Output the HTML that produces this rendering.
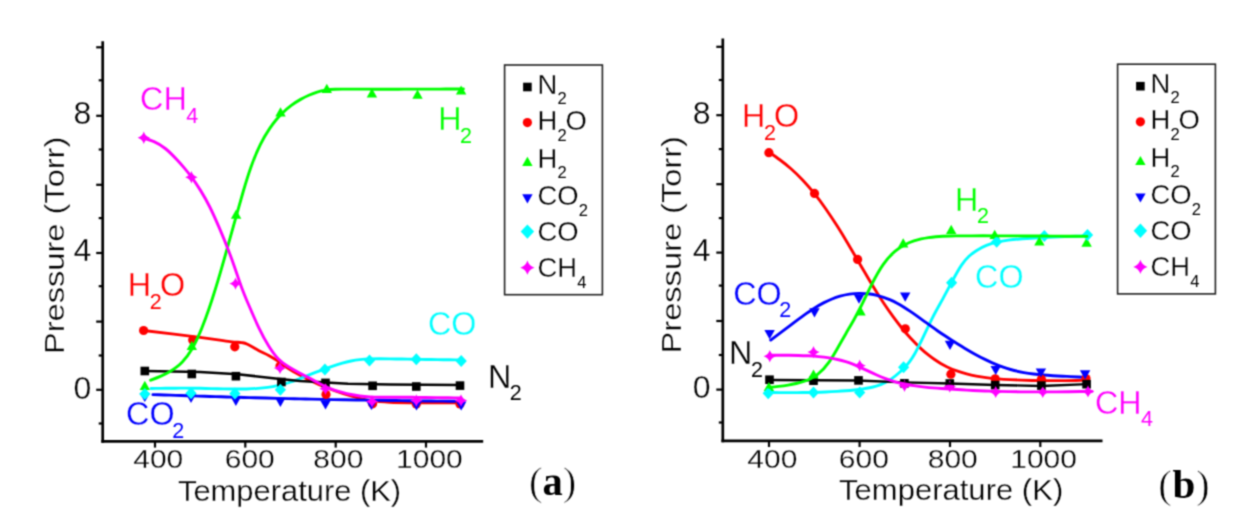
<!DOCTYPE html>
<html><head><meta charset="utf-8"><title>Pressure vs Temperature</title>
<style>html,body{margin:0;padding:0;background:#fff;}svg{display:block;}</style></head>
<body><svg width="1235" height="516" viewBox="0 0 1235 516">
<defs><filter id="soft" filterUnits="userSpaceOnUse" x="0" y="0" width="1235" height="516" color-interpolation-filters="sRGB"><feConvolveMatrix order="3" kernelMatrix="0.04387 0.12171 0.04387 0.12171 0.33767 0.12171 0.04387 0.12171 0.04387" edgeMode="duplicate" preserveAlpha="false"/></filter></defs>
<g filter="url(#soft)">
<rect x="0" y="0" width="1235" height="516" fill="#fff"/>
<line x1="102.70" y1="41.30" x2="102.70" y2="442.75" stroke="#000" stroke-width="2.70"/>
<line x1="101.35" y1="441.40" x2="483.20" y2="441.40" stroke="#000" stroke-width="2.70"/>
<line x1="96.20" y1="47.30" x2="102.70" y2="47.30" stroke="#000" stroke-width="2.20"/>
<line x1="98.70" y1="80.30" x2="102.70" y2="80.30" stroke="#000" stroke-width="2.20"/>
<line x1="96.20" y1="115.80" x2="102.70" y2="115.80" stroke="#000" stroke-width="2.20"/>
<line x1="98.70" y1="149.50" x2="102.70" y2="149.50" stroke="#000" stroke-width="2.20"/>
<line x1="96.20" y1="184.80" x2="102.70" y2="184.80" stroke="#000" stroke-width="2.20"/>
<line x1="98.70" y1="218.10" x2="102.70" y2="218.10" stroke="#000" stroke-width="2.20"/>
<line x1="96.20" y1="253.00" x2="102.70" y2="253.00" stroke="#000" stroke-width="2.20"/>
<line x1="98.70" y1="286.20" x2="102.70" y2="286.20" stroke="#000" stroke-width="2.20"/>
<line x1="96.20" y1="321.60" x2="102.70" y2="321.60" stroke="#000" stroke-width="2.20"/>
<line x1="98.70" y1="355.50" x2="102.70" y2="355.50" stroke="#000" stroke-width="2.20"/>
<line x1="96.20" y1="389.80" x2="102.70" y2="389.80" stroke="#000" stroke-width="2.20"/>
<line x1="98.70" y1="423.50" x2="102.70" y2="423.50" stroke="#000" stroke-width="2.20"/>
<line x1="155.00" y1="441.40" x2="155.00" y2="447.60" stroke="#000" stroke-width="2.20"/>
<line x1="245.30" y1="441.40" x2="245.30" y2="447.60" stroke="#000" stroke-width="2.20"/>
<line x1="335.70" y1="441.40" x2="335.70" y2="447.60" stroke="#000" stroke-width="2.20"/>
<line x1="426.00" y1="441.40" x2="426.00" y2="447.60" stroke="#000" stroke-width="2.20"/>
<line x1="722.80" y1="38.60" x2="722.80" y2="442.15" stroke="#000" stroke-width="2.70"/>
<line x1="721.45" y1="440.80" x2="1102.50" y2="440.80" stroke="#000" stroke-width="2.70"/>
<line x1="716.30" y1="46.80" x2="722.80" y2="46.80" stroke="#000" stroke-width="2.20"/>
<line x1="718.80" y1="80.00" x2="722.80" y2="80.00" stroke="#000" stroke-width="2.20"/>
<line x1="716.30" y1="115.20" x2="722.80" y2="115.20" stroke="#000" stroke-width="2.20"/>
<line x1="718.80" y1="149.10" x2="722.80" y2="149.10" stroke="#000" stroke-width="2.20"/>
<line x1="716.30" y1="184.20" x2="722.80" y2="184.20" stroke="#000" stroke-width="2.20"/>
<line x1="718.80" y1="218.10" x2="722.80" y2="218.10" stroke="#000" stroke-width="2.20"/>
<line x1="716.30" y1="252.60" x2="722.80" y2="252.60" stroke="#000" stroke-width="2.20"/>
<line x1="718.80" y1="285.60" x2="722.80" y2="285.60" stroke="#000" stroke-width="2.20"/>
<line x1="716.30" y1="321.00" x2="722.80" y2="321.00" stroke="#000" stroke-width="2.20"/>
<line x1="718.80" y1="355.00" x2="722.80" y2="355.00" stroke="#000" stroke-width="2.20"/>
<line x1="716.30" y1="389.60" x2="722.80" y2="389.60" stroke="#000" stroke-width="2.20"/>
<line x1="718.80" y1="422.50" x2="722.80" y2="422.50" stroke="#000" stroke-width="2.20"/>
<line x1="769.00" y1="440.80" x2="769.00" y2="447.00" stroke="#000" stroke-width="2.20"/>
<line x1="859.60" y1="440.80" x2="859.60" y2="447.00" stroke="#000" stroke-width="2.20"/>
<line x1="950.00" y1="440.80" x2="950.00" y2="447.00" stroke="#000" stroke-width="2.20"/>
<line x1="1040.30" y1="440.80" x2="1040.30" y2="447.00" stroke="#000" stroke-width="2.20"/>
<text x="91.30" y="124.40" font-family='"Liberation Sans", sans-serif' font-size="32.00" fill="#000" text-anchor="end" font-weight="normal" stroke="#fff" stroke-width="0.3">8</text>
<text x="91.30" y="261.30" font-family='"Liberation Sans", sans-serif' font-size="32.00" fill="#000" text-anchor="end" font-weight="normal" stroke="#fff" stroke-width="0.3">4</text>
<text x="91.30" y="398.60" font-family='"Liberation Sans", sans-serif' font-size="32.00" fill="#000" text-anchor="end" font-weight="normal" stroke="#fff" stroke-width="0.3">0</text>
<text x="710.50" y="124.10" font-family='"Liberation Sans", sans-serif' font-size="32.00" fill="#000" text-anchor="end" font-weight="normal" stroke="#fff" stroke-width="0.3">8</text>
<text x="710.50" y="260.90" font-family='"Liberation Sans", sans-serif' font-size="32.00" fill="#000" text-anchor="end" font-weight="normal" stroke="#fff" stroke-width="0.3">4</text>
<text x="710.50" y="397.90" font-family='"Liberation Sans", sans-serif' font-size="32.00" fill="#000" text-anchor="end" font-weight="normal" stroke="#fff" stroke-width="0.3">0</text>
<text transform="translate(158.20,468.00) scale(1.1700,1)" x="0" y="0" font-family='"Liberation Sans", sans-serif' font-size="25.60" fill="#000" text-anchor="middle" font-weight="normal" stroke="#fff" stroke-width="0.3">400</text>
<text transform="translate(249.75,468.00) scale(1.1700,1)" x="0" y="0" font-family='"Liberation Sans", sans-serif' font-size="25.60" fill="#000" text-anchor="middle" font-weight="normal" stroke="#fff" stroke-width="0.3">600</text>
<text transform="translate(338.30,468.00) scale(1.1700,1)" x="0" y="0" font-family='"Liberation Sans", sans-serif' font-size="25.60" fill="#000" text-anchor="middle" font-weight="normal" stroke="#fff" stroke-width="0.3">800</text>
<text transform="translate(429.40,468.00) scale(1.1700,1)" x="0" y="0" font-family='"Liberation Sans", sans-serif' font-size="25.60" fill="#000" text-anchor="middle" font-weight="normal" stroke="#fff" stroke-width="0.3">1000</text>
<text transform="translate(772.30,468.00) scale(1.1700,1)" x="0" y="0" font-family='"Liberation Sans", sans-serif' font-size="25.60" fill="#000" text-anchor="middle" font-weight="normal" stroke="#fff" stroke-width="0.3">400</text>
<text transform="translate(863.80,468.00) scale(1.1700,1)" x="0" y="0" font-family='"Liberation Sans", sans-serif' font-size="25.60" fill="#000" text-anchor="middle" font-weight="normal" stroke="#fff" stroke-width="0.3">600</text>
<text transform="translate(952.70,468.00) scale(1.1700,1)" x="0" y="0" font-family='"Liberation Sans", sans-serif' font-size="25.60" fill="#000" text-anchor="middle" font-weight="normal" stroke="#fff" stroke-width="0.3">800</text>
<text transform="translate(1043.60,468.00) scale(1.1700,1)" x="0" y="0" font-family='"Liberation Sans", sans-serif' font-size="25.60" fill="#000" text-anchor="middle" font-weight="normal" stroke="#fff" stroke-width="0.3">1000</text>
<text transform="translate(178.00,500.70) scale(1.0300,1)" x="0" y="0" font-family='"Liberation Sans", sans-serif' font-size="30.00" fill="#000" text-anchor="start" font-weight="normal" stroke="#fff" stroke-width="0.3">Temperature (K)</text>
<text transform="translate(839.00,500.30) scale(1.0350,1)" x="0" y="0" font-family='"Liberation Sans", sans-serif' font-size="30.00" fill="#000" text-anchor="start" font-weight="normal" stroke="#fff" stroke-width="0.3">Temperature (K)</text>
<text transform="translate(64.00,354.00) rotate(-90) scale(1.165,1)" x="0" y="0" font-family='"Liberation Sans", sans-serif' font-size="28" fill="#000" stroke="#fff" stroke-width="0.3">Pressure (Torr)</text>
<text transform="translate(680.80,353.40) rotate(-90) scale(1.165,1)" x="0" y="0" font-family='"Liberation Sans", sans-serif' font-size="28" fill="#000" stroke="#fff" stroke-width="0.3">Pressure (Torr)</text>
<text x="529.1" y="495.3" font-family='"Liberation Serif", serif' font-size="40.5" fill="#000"><tspan stroke="#fff" stroke-width="0.7">(</tspan><tspan font-weight="bold">a</tspan><tspan stroke="#fff" stroke-width="0.7">)</tspan></text>
<text x="1158.3" y="498.0" font-family='"Liberation Serif", serif' font-size="41" fill="#000" letter-spacing="0.6"><tspan stroke="#fff" stroke-width="0.7">(</tspan><tspan font-weight="bold">b</tspan><tspan stroke="#fff" stroke-width="0.7">)</tspan></text>
<rect x="504.60" y="65.00" width="97.80" height="229.70" fill="none" stroke="#222" stroke-width="1.6"/>
<rect x="523.10" y="82.70" width="8.60" height="8.60" fill="#000000"/>
<text x="537.60" y="93.50" font-family='"Liberation Sans", sans-serif' font-size="27.40" fill="#000" text-anchor="start" font-weight="normal" stroke="#fff" stroke-width="0.3">N</text>
<text x="557.38" y="104.20" font-family='"Liberation Sans", sans-serif' font-size="16.50" fill="#000" text-anchor="start" font-weight="normal">2</text>
<circle cx="527.40" cy="122.60" r="4.60" fill="#ff0000"/>
<text x="537.60" y="130.20" font-family='"Liberation Sans", sans-serif' font-size="27.40" fill="#000" text-anchor="start" font-weight="normal" stroke="#fff" stroke-width="0.3">H</text>
<text x="557.38" y="140.90" font-family='"Liberation Sans", sans-serif' font-size="16.50" fill="#000" text-anchor="start" font-weight="normal">2</text>
<text x="565.56" y="130.20" font-family='"Liberation Sans", sans-serif' font-size="27.40" fill="#000" text-anchor="start" font-weight="normal" stroke="#fff" stroke-width="0.3">O</text>
<path d="M527.40,156.70 L532.60,165.90 L522.20,165.90 Z" fill="#00ff00"/>
<text x="537.60" y="167.50" font-family='"Liberation Sans", sans-serif' font-size="27.40" fill="#000" text-anchor="start" font-weight="normal" stroke="#fff" stroke-width="0.3">H</text>
<text x="557.38" y="178.20" font-family='"Liberation Sans", sans-serif' font-size="16.50" fill="#000" text-anchor="start" font-weight="normal">2</text>
<path d="M527.40,203.40 L532.60,194.20 L522.20,194.20 Z" fill="#0000ff"/>
<text x="537.60" y="205.00" font-family='"Liberation Sans", sans-serif' font-size="27.40" fill="#000" text-anchor="start" font-weight="normal" stroke="#fff" stroke-width="0.3">CO</text>
<text x="578.70" y="215.70" font-family='"Liberation Sans", sans-serif' font-size="16.50" fill="#000" text-anchor="start" font-weight="normal">2</text>
<path d="M527.40,224.40 L534.12,231.60 L527.40,238.80 L520.68,231.60 Z" fill="#00ffff"/>
<text x="537.60" y="240.60" font-family='"Liberation Sans", sans-serif' font-size="27.40" fill="#000" text-anchor="start" font-weight="normal" stroke="#fff" stroke-width="0.3">CO</text>
<path d="M527.40,260.57 Q528.99,266.11 534.53,267.70 Q528.99,269.29 527.40,274.83 Q525.81,269.29 520.27,267.70 Q525.81,266.11 527.40,260.57 Z" fill="#ff00ff"/>
<text x="537.60" y="277.10" font-family='"Liberation Sans", sans-serif' font-size="27.40" fill="#000" text-anchor="start" font-weight="normal" stroke="#fff" stroke-width="0.3">CH</text>
<text x="577.17" y="287.80" font-family='"Liberation Sans", sans-serif' font-size="16.50" fill="#000" text-anchor="start" font-weight="normal">4</text>
<rect x="1117.60" y="64.20" width="97.80" height="229.70" fill="none" stroke="#222" stroke-width="1.6"/>
<rect x="1136.10" y="81.90" width="8.60" height="8.60" fill="#000000"/>
<text x="1150.60" y="92.70" font-family='"Liberation Sans", sans-serif' font-size="27.40" fill="#000" text-anchor="start" font-weight="normal" stroke="#fff" stroke-width="0.3">N</text>
<text x="1170.38" y="103.40" font-family='"Liberation Sans", sans-serif' font-size="16.50" fill="#000" text-anchor="start" font-weight="normal">2</text>
<circle cx="1140.40" cy="121.80" r="4.60" fill="#ff0000"/>
<text x="1150.60" y="129.40" font-family='"Liberation Sans", sans-serif' font-size="27.40" fill="#000" text-anchor="start" font-weight="normal" stroke="#fff" stroke-width="0.3">H</text>
<text x="1170.38" y="140.10" font-family='"Liberation Sans", sans-serif' font-size="16.50" fill="#000" text-anchor="start" font-weight="normal">2</text>
<text x="1178.56" y="129.40" font-family='"Liberation Sans", sans-serif' font-size="27.40" fill="#000" text-anchor="start" font-weight="normal" stroke="#fff" stroke-width="0.3">O</text>
<path d="M1140.40,155.90 L1145.60,165.10 L1135.20,165.10 Z" fill="#00ff00"/>
<text x="1150.60" y="166.70" font-family='"Liberation Sans", sans-serif' font-size="27.40" fill="#000" text-anchor="start" font-weight="normal" stroke="#fff" stroke-width="0.3">H</text>
<text x="1170.38" y="177.40" font-family='"Liberation Sans", sans-serif' font-size="16.50" fill="#000" text-anchor="start" font-weight="normal">2</text>
<path d="M1140.40,202.60 L1145.60,193.40 L1135.20,193.40 Z" fill="#0000ff"/>
<text x="1150.60" y="204.20" font-family='"Liberation Sans", sans-serif' font-size="27.40" fill="#000" text-anchor="start" font-weight="normal" stroke="#fff" stroke-width="0.3">CO</text>
<text x="1191.70" y="214.90" font-family='"Liberation Sans", sans-serif' font-size="16.50" fill="#000" text-anchor="start" font-weight="normal">2</text>
<path d="M1140.40,223.60 L1147.12,230.80 L1140.40,238.00 L1133.68,230.80 Z" fill="#00ffff"/>
<text x="1150.60" y="239.80" font-family='"Liberation Sans", sans-serif' font-size="27.40" fill="#000" text-anchor="start" font-weight="normal" stroke="#fff" stroke-width="0.3">CO</text>
<path d="M1140.40,259.77 Q1141.99,265.31 1147.53,266.90 Q1141.99,268.49 1140.40,274.03 Q1138.81,268.49 1133.27,266.90 Q1138.81,265.31 1140.40,259.77 Z" fill="#ff00ff"/>
<text x="1150.60" y="276.30" font-family='"Liberation Sans", sans-serif' font-size="27.40" fill="#000" text-anchor="start" font-weight="normal" stroke="#fff" stroke-width="0.3">CH</text>
<text x="1190.17" y="287.00" font-family='"Liberation Sans", sans-serif' font-size="16.50" fill="#000" text-anchor="start" font-weight="normal">4</text>
<text x="140.10" y="110.10" font-family='"Liberation Sans", sans-serif' font-size="32.30" fill="#ff00ff" text-anchor="start" font-weight="normal" stroke="#fff" stroke-width="0.3">CH</text>
<text x="186.20" y="122.70" font-family='"Liberation Sans", sans-serif' font-size="21.50" fill="#ff00ff" text-anchor="start" font-weight="normal">4</text>
<text x="438.30" y="130.30" font-family='"Liberation Sans", sans-serif' font-size="32.30" fill="#00ff00" text-anchor="start" font-weight="normal" stroke="#fff" stroke-width="0.3">H</text>
<text x="460.10" y="142.60" font-family='"Liberation Sans", sans-serif' font-size="21.50" fill="#00ff00" text-anchor="start" font-weight="normal">2</text>
<text x="127.80" y="295.70" font-family='"Liberation Sans", sans-serif' font-size="32.30" fill="#ff0000" text-anchor="start" font-weight="normal" stroke="#fff" stroke-width="0.3">H</text>
<text x="149.70" y="309.10" font-family='"Liberation Sans", sans-serif' font-size="21.50" fill="#ff0000" text-anchor="start" font-weight="normal">2</text>
<text x="160.10" y="295.70" font-family='"Liberation Sans", sans-serif' font-size="32.30" fill="#ff0000" text-anchor="start" font-weight="normal" stroke="#fff" stroke-width="0.3">O</text>
<text x="428.00" y="335.20" font-family='"Liberation Sans", sans-serif' font-size="32.30" fill="#00ffff" text-anchor="start" font-weight="normal" stroke="#fff" stroke-width="0.3">CO</text>
<text x="487.90" y="387.50" font-family='"Liberation Sans", sans-serif' font-size="32.30" fill="#000000" text-anchor="start" font-weight="normal" stroke="#fff" stroke-width="0.3">N</text>
<text x="509.70" y="400.30" font-family='"Liberation Sans", sans-serif' font-size="21.50" fill="#000000" text-anchor="start" font-weight="normal">2</text>
<text x="126.10" y="425.00" font-family='"Liberation Sans", sans-serif' font-size="32.30" fill="#0000ff" text-anchor="start" font-weight="normal" stroke="#fff" stroke-width="0.3">CO</text>
<text x="172.20" y="437.70" font-family='"Liberation Sans", sans-serif' font-size="21.50" fill="#0000ff" text-anchor="start" font-weight="normal">2</text>
<text x="742.00" y="127.30" font-family='"Liberation Sans", sans-serif' font-size="32.30" fill="#ff0000" text-anchor="start" font-weight="normal" stroke="#fff" stroke-width="0.3">H</text>
<text x="763.90" y="140.10" font-family='"Liberation Sans", sans-serif' font-size="21.50" fill="#ff0000" text-anchor="start" font-weight="normal">2</text>
<text x="774.10" y="127.30" font-family='"Liberation Sans", sans-serif' font-size="32.30" fill="#ff0000" text-anchor="start" font-weight="normal" stroke="#fff" stroke-width="0.3">O</text>
<text x="954.90" y="211.10" font-family='"Liberation Sans", sans-serif' font-size="32.30" fill="#00ff00" text-anchor="start" font-weight="normal" stroke="#fff" stroke-width="0.3">H</text>
<text x="977.10" y="222.90" font-family='"Liberation Sans", sans-serif' font-size="21.50" fill="#00ff00" text-anchor="start" font-weight="normal">2</text>
<text x="733.20" y="305.00" font-family='"Liberation Sans", sans-serif' font-size="32.30" fill="#0000ff" text-anchor="start" font-weight="normal" stroke="#fff" stroke-width="0.3">CO</text>
<text x="779.20" y="317.40" font-family='"Liberation Sans", sans-serif' font-size="21.50" fill="#0000ff" text-anchor="start" font-weight="normal">2</text>
<text x="975.10" y="287.80" font-family='"Liberation Sans", sans-serif' font-size="32.30" fill="#00ffff" text-anchor="start" font-weight="normal" stroke="#fff" stroke-width="0.3">CO</text>
<text x="729.10" y="363.90" font-family='"Liberation Sans", sans-serif' font-size="32.30" fill="#000000" text-anchor="start" font-weight="normal" stroke="#fff" stroke-width="0.3">N</text>
<text x="750.90" y="376.50" font-family='"Liberation Sans", sans-serif' font-size="21.50" fill="#000000" text-anchor="start" font-weight="normal">2</text>
<text x="1095.00" y="413.80" font-family='"Liberation Sans", sans-serif' font-size="32.30" fill="#ff00ff" text-anchor="start" font-weight="normal" stroke="#fff" stroke-width="0.3">CH</text>
<text x="1140.90" y="426.40" font-family='"Liberation Sans", sans-serif' font-size="21.50" fill="#ff00ff" text-anchor="start" font-weight="normal">4</text>
<path d="M143.60,330.50 C153.00,331.65 185.60,335.55 200.00,337.40 C214.40,339.25 223.07,340.73 230.00,341.60 C236.93,342.47 238.70,342.17 241.60,342.60 C244.50,343.03 244.50,342.85 247.40,344.20 C250.30,345.55 255.45,348.82 259.00,350.70 C262.55,352.58 265.47,353.72 268.70,355.50 C271.93,357.28 274.32,358.75 278.40,361.40 C282.48,364.05 285.45,367.13 293.20,371.40 C300.95,375.67 313.80,382.52 324.90,387.00 C336.00,391.48 348.95,395.77 359.80,398.30 C370.65,400.83 373.30,401.45 390.00,402.20 C406.70,402.95 448.33,402.70 460.00,402.80" fill="none" stroke="#ff0000" stroke-width="2.90" stroke-linejoin="round" stroke-linecap="round"/>
<path d="M768.9,151.95 C772.53,154.51 776.17,157.06 779.80,159.76 C783.43,162.46 787.07,165.32 790.70,168.48 C794.67,171.94 798.63,175.75 802.60,179.95 C806.57,184.15 810.53,188.73 814.50,193.71 C818.28,198.46 822.07,203.57 825.85,208.99 C829.63,214.40 833.42,220.12 837.20,226.09 C840.60,231.45 844.00,237.01 847.40,242.70 C850.80,248.38 854.20,254.19 857.60,260.06 C860.12,264.40 862.63,268.77 865.15,273.09 C867.67,277.41 870.18,281.69 872.70,285.84 C876.33,291.84 879.97,297.58 883.60,303.05 C886.77,307.81 889.93,312.36 893.10,316.68 C895.80,320.37 898.50,323.89 901.20,327.24 C904.37,331.17 907.53,334.85 910.70,338.30 C914.20,342.11 917.70,345.64 921.20,348.85 C923.37,350.84 925.53,352.70 927.70,354.44 C929.87,356.19 932.03,357.81 934.20,359.31 C936.37,360.81 938.53,362.20 940.70,363.47 C942.87,364.74 945.03,365.89 947.20,366.94 C950.43,368.51 953.67,369.84 956.90,370.98 C960.13,372.13 963.37,373.09 966.60,373.93 C969.83,374.76 973.07,375.47 976.30,376.08 C979.53,376.68 982.77,377.19 986.00,377.61 C990.00,378.13 994.00,378.54 998.00,378.86 C1002.00,379.18 1006.00,379.43 1010.00,379.64 C1013.70,379.83 1017.40,379.99 1021.10,380.12 C1024.80,380.25 1028.50,380.35 1032.20,380.43 C1035.90,380.51 1039.60,380.56 1043.30,380.59 C1046.94,380.62 1050.58,380.64 1054.22,380.63 C1057.87,380.63 1061.51,380.61 1065.15,380.58 C1068.79,380.55 1072.43,380.51 1076.08,380.47 C1079.72,380.42 1083.36,380.37 1087.00,380.32" fill="none" stroke="#ff0000" stroke-width="2.90" stroke-linejoin="round" stroke-linecap="round"/>
<path d="M151.0,388.48 C154.27,388.43 157.53,388.38 160.80,388.34 C164.07,388.30 167.33,388.26 170.60,388.23 C173.87,388.20 177.13,388.18 180.40,388.17 C183.67,388.16 186.93,388.17 190.20,388.19 C193.47,388.21 196.73,388.25 200.00,388.31 C203.87,388.39 207.73,388.49 211.60,388.59 C215.47,388.70 219.33,388.81 223.20,388.90 C227.07,388.98 230.93,389.05 234.80,389.06 C238.67,389.08 242.53,389.04 246.40,388.93 C250.27,388.82 254.13,388.63 258.00,388.34 C261.25,388.10 264.50,387.78 267.75,387.35 C271.00,386.92 274.25,386.38 277.50,385.68 C279.58,385.24 281.67,384.73 283.75,384.16 C285.83,383.58 287.92,382.95 290.00,382.25 C292.90,381.27 295.80,380.18 298.70,379.03 C301.60,377.89 304.50,376.71 307.40,375.56 C310.32,374.40 313.23,373.28 316.15,372.18 C319.07,371.08 321.98,370.00 324.90,368.93 C327.80,367.87 330.70,366.81 333.60,365.82 C336.50,364.82 339.40,363.89 342.30,363.08 C345.22,362.27 348.13,361.58 351.05,361.00 C353.97,360.43 356.88,359.98 359.80,359.64 C363.16,359.24 366.51,359.00 369.87,358.87 C373.22,358.73 376.58,358.69 379.93,358.70 C383.29,358.71 386.64,358.77 390.00,358.83 C393.96,358.91 397.91,358.98 401.87,359.04 C405.82,359.11 409.78,359.18 413.73,359.25 C417.69,359.31 421.64,359.38 425.60,359.44 C429.56,359.50 433.51,359.57 437.47,359.63 C441.42,359.69 445.38,359.75 449.33,359.82 C453.29,359.88 457.24,359.94 461.20,360.00" fill="none" stroke="#00ffff" stroke-width="2.90" stroke-linejoin="round" stroke-linecap="round"/>
<path d="M768.2,392.50 C772.03,392.53 775.87,392.56 779.70,392.58 C783.53,392.60 787.37,392.61 791.20,392.61 C795.03,392.61 798.87,392.59 802.70,392.55 C806.53,392.52 810.37,392.45 814.20,392.36 C818.03,392.27 821.87,392.15 825.70,391.99 C829.53,391.84 833.37,391.64 837.20,391.40 C840.07,391.23 842.93,391.02 845.80,390.78 C848.67,390.55 851.53,390.27 854.40,389.96 C857.27,389.64 860.13,389.29 863.00,388.88 C865.20,388.56 867.40,388.21 869.60,387.78 C871.80,387.35 874.00,386.83 876.20,386.17 C879.10,385.29 882.00,384.17 884.90,382.72 C887.20,381.57 889.50,380.22 891.80,378.62 C894.13,376.99 896.47,375.09 898.80,373.03 C900.67,371.38 902.53,369.63 904.40,367.67 C906.27,365.72 908.13,363.57 910.00,361.02 C911.63,358.79 913.27,356.25 914.90,353.41 C916.77,350.16 918.63,346.50 920.50,342.69 C922.50,338.60 924.50,334.33 926.50,330.09 C928.57,325.70 930.63,321.34 932.70,317.29 C936.07,310.70 939.43,304.94 942.80,298.84 C945.73,293.53 948.67,287.95 951.60,282.41 C954.97,276.05 958.33,269.73 961.70,264.85 C964.13,261.33 966.57,258.56 969.00,256.28 C971.43,254.00 973.87,252.22 976.30,250.67 C979.68,248.51 983.07,246.80 986.45,245.42 C989.83,244.05 993.22,243.01 996.60,242.19 C1000.50,241.24 1004.40,240.59 1008.30,240.09 C1012.20,239.60 1016.10,239.27 1020.00,238.97 C1023.72,238.68 1027.44,238.42 1031.17,238.19 C1034.89,237.96 1038.61,237.75 1042.33,237.56 C1046.06,237.37 1049.78,237.20 1053.50,237.04 C1057.22,236.89 1060.94,236.74 1064.67,236.61 C1068.39,236.48 1072.11,236.36 1075.83,236.24 C1079.56,236.12 1083.28,236.01 1087.00,235.90" fill="none" stroke="#00ffff" stroke-width="2.90" stroke-linejoin="round" stroke-linecap="round"/>
<path d="M152.9,394.62 C156.71,394.74 160.51,394.86 164.32,394.99 C168.13,395.11 171.93,395.24 175.74,395.36 C179.55,395.48 183.35,395.60 187.16,395.72 C190.97,395.85 194.77,395.97 198.58,396.09 C202.39,396.21 206.19,396.33 210.00,396.44 C213.75,396.56 217.50,396.67 221.25,396.79 C225.00,396.90 228.75,397.01 232.50,397.12 C236.25,397.23 240.00,397.34 243.75,397.45 C247.50,397.56 251.25,397.66 255.00,397.77 C258.75,397.87 262.50,397.97 266.25,398.07 C270.00,398.17 273.75,398.27 277.50,398.36 C281.25,398.46 285.00,398.55 288.75,398.64 C292.50,398.73 296.25,398.81 300.00,398.90 C303.75,398.98 307.50,399.06 311.25,399.14 C315.00,399.22 318.75,399.30 322.50,399.37 C326.25,399.45 330.00,399.52 333.75,399.59 C337.50,399.65 341.25,399.72 345.00,399.79 C348.75,399.85 352.50,399.91 356.25,399.98 C360.00,400.04 363.75,400.10 367.50,400.15 C371.25,400.21 375.00,400.27 378.75,400.32 C382.50,400.38 386.25,400.43 390.00,400.48 C393.94,400.54 397.89,400.59 401.83,400.64 C405.78,400.69 409.72,400.74 413.67,400.79 C417.61,400.84 421.56,400.89 425.50,400.94 C429.44,400.99 433.39,401.04 437.33,401.08 C441.28,401.13 445.22,401.18 449.17,401.22 C453.11,401.27 457.06,401.31 461.00,401.36" fill="none" stroke="#0000ff" stroke-width="2.90" stroke-linejoin="round" stroke-linecap="round"/>
<path d="M770.7,340.08 C772.80,338.53 774.90,336.98 777.00,335.42 C779.10,333.85 781.20,332.27 783.30,330.68 C787.17,327.76 791.03,324.79 794.90,321.86 C798.77,318.93 802.63,316.04 806.50,313.34 C808.43,311.98 810.37,310.67 812.30,309.42 C816.20,306.90 820.10,304.61 824.00,302.63 C826.67,301.27 829.33,300.05 832.00,298.98 C834.67,297.91 837.33,296.99 840.00,296.22 C843.17,295.31 846.33,294.62 849.50,294.14 C852.67,293.66 855.83,293.40 859.00,293.35 C862.67,293.30 866.33,293.52 870.00,294.03 C872.27,294.35 874.53,294.78 876.80,295.31 C879.07,295.85 881.33,296.50 883.60,297.27 C885.85,298.03 888.10,298.91 890.35,299.90 C892.60,300.89 894.85,302.00 897.10,303.21 C899.37,304.44 901.63,305.78 903.90,307.19 C906.17,308.61 908.43,310.10 910.70,311.65 C912.97,313.19 915.23,314.79 917.50,316.41 C919.77,318.02 922.03,319.66 924.30,321.31 C926.55,322.93 928.80,324.56 931.05,326.17 C933.30,327.78 935.55,329.38 937.80,330.94 C940.07,332.52 942.33,334.06 944.60,335.57 C946.87,337.08 949.13,338.56 951.40,340.01 C953.67,341.46 955.93,342.88 958.20,344.28 C960.47,345.67 962.73,347.05 965.00,348.39 C968.33,350.37 971.67,352.30 975.00,354.15 C978.33,355.99 981.67,357.76 985.00,359.42 C987.43,360.63 989.87,361.78 992.30,362.86 C994.73,363.95 997.17,364.96 999.60,365.89 C1002.03,366.82 1004.47,367.67 1006.90,368.44 C1009.33,369.21 1011.77,369.91 1014.20,370.52 C1017.43,371.34 1020.67,372.02 1023.90,372.60 C1027.13,373.18 1030.37,373.65 1033.60,374.04 C1036.83,374.44 1040.07,374.76 1043.30,375.02 C1046.53,375.29 1049.77,375.50 1053.00,375.69 C1056.23,375.88 1059.47,376.04 1062.70,376.20 C1065.40,376.34 1068.10,376.47 1070.80,376.61 C1073.50,376.74 1076.20,376.87 1078.90,377.01 C1081.60,377.14 1084.30,377.27 1087.00,377.40" fill="none" stroke="#0000ff" stroke-width="2.90" stroke-linejoin="round" stroke-linecap="round"/>
<circle cx="143.60" cy="330.50" r="4.60" fill="#ff0000"/>
<circle cx="192.70" cy="340.00" r="4.60" fill="#ff0000"/>
<circle cx="234.80" cy="346.80" r="4.60" fill="#ff0000"/>
<circle cx="280.00" cy="366.00" r="4.60" fill="#ff0000"/>
<circle cx="326.00" cy="394.50" r="4.60" fill="#ff0000"/>
<circle cx="372.60" cy="403.80" r="4.60" fill="#ff0000"/>
<circle cx="416.30" cy="404.00" r="4.60" fill="#ff0000"/>
<circle cx="460.00" cy="404.00" r="4.60" fill="#ff0000"/>
<circle cx="768.90" cy="152.70" r="4.60" fill="#ff0000"/>
<circle cx="814.50" cy="193.40" r="4.60" fill="#ff0000"/>
<circle cx="857.60" cy="259.40" r="4.60" fill="#ff0000"/>
<circle cx="905.30" cy="328.80" r="4.60" fill="#ff0000"/>
<circle cx="950.90" cy="374.20" r="4.60" fill="#ff0000"/>
<circle cx="995.20" cy="378.80" r="4.60" fill="#ff0000"/>
<circle cx="1041.40" cy="379.30" r="4.60" fill="#ff0000"/>
<circle cx="1086.00" cy="378.50" r="4.60" fill="#ff0000"/>
<rect x="140.50" y="366.70" width="8.60" height="8.60" fill="#000000"/>
<rect x="187.50" y="369.70" width="8.60" height="8.60" fill="#000000"/>
<rect x="231.60" y="371.90" width="8.60" height="8.60" fill="#000000"/>
<rect x="277.10" y="377.70" width="8.60" height="8.60" fill="#000000"/>
<rect x="321.20" y="378.60" width="8.60" height="8.60" fill="#000000"/>
<rect x="368.30" y="381.50" width="8.60" height="8.60" fill="#000000"/>
<rect x="412.00" y="382.20" width="8.60" height="8.60" fill="#000000"/>
<rect x="455.70" y="381.30" width="8.60" height="8.60" fill="#000000"/>
<rect x="765.20" y="375.40" width="8.60" height="8.60" fill="#000000"/>
<rect x="809.20" y="376.40" width="8.60" height="8.60" fill="#000000"/>
<rect x="854.20" y="376.10" width="8.60" height="8.60" fill="#000000"/>
<rect x="900.10" y="379.00" width="8.60" height="8.60" fill="#000000"/>
<rect x="945.50" y="379.20" width="8.60" height="8.60" fill="#000000"/>
<rect x="990.90" y="380.80" width="8.60" height="8.60" fill="#000000"/>
<rect x="1037.10" y="381.30" width="8.60" height="8.60" fill="#000000"/>
<rect x="1082.30" y="379.90" width="8.60" height="8.60" fill="#000000"/>
<path d="M144.80,402.10 L150.00,392.90 L139.60,392.90 Z" fill="#0000ff"/>
<path d="M191.00,403.00 L196.20,393.80 L185.80,393.80 Z" fill="#0000ff"/>
<path d="M235.90,406.00 L241.10,396.80 L230.70,396.80 Z" fill="#0000ff"/>
<path d="M280.40,407.00 L285.60,397.80 L275.20,397.80 Z" fill="#0000ff"/>
<path d="M325.50,409.60 L330.70,400.40 L320.30,400.40 Z" fill="#0000ff"/>
<path d="M371.40,410.10 L376.60,400.90 L366.20,400.90 Z" fill="#0000ff"/>
<path d="M416.50,410.60 L421.70,401.40 L411.30,401.40 Z" fill="#0000ff"/>
<path d="M461.20,410.60 L466.40,401.40 L456.00,401.40 Z" fill="#0000ff"/>
<path d="M769.60,339.20 L774.80,330.00 L764.40,330.00 Z" fill="#0000ff"/>
<path d="M814.50,317.40 L819.70,308.20 L809.30,308.20 Z" fill="#0000ff"/>
<path d="M859.00,303.80 L864.20,294.60 L853.80,294.60 Z" fill="#0000ff"/>
<path d="M905.20,301.80 L910.40,292.60 L900.00,292.60 Z" fill="#0000ff"/>
<path d="M950.00,349.90 L955.20,340.70 L944.80,340.70 Z" fill="#0000ff"/>
<path d="M995.70,375.10 L1000.90,365.90 L990.50,365.90 Z" fill="#0000ff"/>
<path d="M1040.90,377.60 L1046.10,368.40 L1035.70,368.40 Z" fill="#0000ff"/>
<path d="M1085.10,379.50 L1090.30,370.30 L1079.90,370.30 Z" fill="#0000ff"/>
<path d="M144.80,380.70 L150.00,389.90 L139.60,389.90 Z" fill="#00ff00"/>
<path d="M191.80,340.70 L197.00,349.90 L186.60,349.90 Z" fill="#00ff00"/>
<path d="M236.10,209.60 L241.30,218.80 L230.90,218.80 Z" fill="#00ff00"/>
<path d="M280.50,107.30 L285.70,116.50 L275.30,116.50 Z" fill="#00ff00"/>
<path d="M326.80,83.80 L332.00,93.00 L321.60,93.00 Z" fill="#00ff00"/>
<path d="M371.90,88.30 L377.10,97.50 L366.70,97.50 Z" fill="#00ff00"/>
<path d="M417.50,89.60 L422.70,98.80 L412.30,98.80 Z" fill="#00ff00"/>
<path d="M461.10,85.40 L466.30,94.60 L455.90,94.60 Z" fill="#00ff00"/>
<path d="M768.90,381.90 L774.10,391.10 L763.70,391.10 Z" fill="#00ff00"/>
<path d="M813.50,369.40 L818.70,378.60 L808.30,378.60 Z" fill="#00ff00"/>
<path d="M860.50,306.30 L865.70,315.50 L855.30,315.50 Z" fill="#00ff00"/>
<path d="M903.20,238.30 L908.40,247.50 L898.00,247.50 Z" fill="#00ff00"/>
<path d="M951.20,224.80 L956.40,234.00 L946.00,234.00 Z" fill="#00ff00"/>
<path d="M994.70,229.80 L999.90,239.00 L989.50,239.00 Z" fill="#00ff00"/>
<path d="M1039.40,236.20 L1044.60,245.40 L1034.20,245.40 Z" fill="#00ff00"/>
<path d="M1086.60,237.60 L1091.80,246.80 L1081.40,246.80 Z" fill="#00ff00"/>
<path d="M144.80,388.00 L150.40,394.00 L144.80,400.00 L139.20,394.00 Z" fill="#00ffff"/>
<path d="M191.00,387.20 L196.60,393.20 L191.00,399.20 L185.40,393.20 Z" fill="#00ffff"/>
<path d="M234.90,387.60 L240.50,393.60 L234.90,399.60 L229.30,393.60 Z" fill="#00ffff"/>
<path d="M280.40,383.80 L286.00,389.80 L280.40,395.80 L274.80,389.80 Z" fill="#00ffff"/>
<path d="M324.90,363.50 L330.50,369.50 L324.90,375.50 L319.30,369.50 Z" fill="#00ffff"/>
<path d="M369.50,354.50 L375.10,360.50 L369.50,366.50 L363.90,360.50 Z" fill="#00ffff"/>
<path d="M416.30,353.30 L421.90,359.30 L416.30,365.30 L410.70,359.30 Z" fill="#00ffff"/>
<path d="M461.20,355.00 L466.80,361.00 L461.20,367.00 L455.60,361.00 Z" fill="#00ffff"/>
<path d="M768.20,387.30 L773.80,393.30 L768.20,399.30 L762.60,393.30 Z" fill="#00ffff"/>
<path d="M813.50,386.50 L819.10,392.50 L813.50,398.50 L807.90,392.50 Z" fill="#00ffff"/>
<path d="M859.70,386.50 L865.30,392.50 L859.70,398.50 L854.10,392.50 Z" fill="#00ffff"/>
<path d="M903.60,361.20 L909.20,367.20 L903.60,373.20 L898.00,367.20 Z" fill="#00ffff"/>
<path d="M951.60,276.80 L957.20,282.80 L951.60,288.80 L946.00,282.80 Z" fill="#00ffff"/>
<path d="M996.70,235.70 L1002.30,241.70 L996.70,247.70 L991.10,241.70 Z" fill="#00ffff"/>
<path d="M1044.30,229.90 L1049.90,235.90 L1044.30,241.90 L1038.70,235.90 Z" fill="#00ffff"/>
<path d="M1087.50,228.90 L1093.10,234.90 L1087.50,240.90 L1081.90,234.90 Z" fill="#00ffff"/>
<path d="M143.80,131.50 Q145.18,136.32 150.00,137.70 Q145.18,139.08 143.80,143.90 Q142.42,139.08 137.60,137.70 Q142.42,136.32 143.80,131.50 Z" fill="#ff00ff"/>
<path d="M191.40,171.00 Q192.78,175.82 197.60,177.20 Q192.78,178.58 191.40,183.40 Q190.02,178.58 185.20,177.20 Q190.02,175.82 191.40,171.00 Z" fill="#ff00ff"/>
<path d="M235.50,277.40 Q236.88,282.22 241.70,283.60 Q236.88,284.98 235.50,289.80 Q234.12,284.98 229.30,283.60 Q234.12,282.22 235.50,277.40 Z" fill="#ff00ff"/>
<path d="M280.00,361.90 Q281.38,366.72 286.20,368.10 Q281.38,369.48 280.00,374.30 Q278.62,369.48 273.80,368.10 Q278.62,366.72 280.00,361.90 Z" fill="#ff00ff"/>
<path d="M325.50,382.50 Q326.88,387.32 331.70,388.70 Q326.88,390.08 325.50,394.90 Q324.12,390.08 319.30,388.70 Q324.12,387.32 325.50,382.50 Z" fill="#ff00ff"/>
<path d="M372.00,395.30 Q373.38,400.12 378.20,401.50 Q373.38,402.88 372.00,407.70 Q370.62,402.88 365.80,401.50 Q370.62,400.12 372.00,395.30 Z" fill="#ff00ff"/>
<path d="M416.30,394.30 Q417.68,399.12 422.50,400.50 Q417.68,401.88 416.30,406.70 Q414.92,401.88 410.10,400.50 Q414.92,399.12 416.30,394.30 Z" fill="#ff00ff"/>
<path d="M461.00,394.30 Q462.38,399.12 467.20,400.50 Q462.38,401.88 461.00,406.70 Q459.62,401.88 454.80,400.50 Q459.62,399.12 461.00,394.30 Z" fill="#ff00ff"/>
<path d="M769.80,350.10 Q771.18,354.92 776.00,356.30 Q771.18,357.68 769.80,362.50 Q768.42,357.68 763.60,356.30 Q768.42,354.92 769.80,350.10 Z" fill="#ff00ff"/>
<path d="M813.50,345.90 Q814.88,350.72 819.70,352.10 Q814.88,353.48 813.50,358.30 Q812.12,353.48 807.30,352.10 Q812.12,350.72 813.50,345.90 Z" fill="#ff00ff"/>
<path d="M859.70,359.40 Q861.08,364.22 865.90,365.60 Q861.08,366.98 859.70,371.80 Q858.32,366.98 853.50,365.60 Q858.32,364.22 859.70,359.40 Z" fill="#ff00ff"/>
<path d="M904.50,379.50 Q905.88,384.32 910.70,385.70 Q905.88,387.08 904.50,391.90 Q903.12,387.08 898.30,385.70 Q903.12,384.32 904.50,379.50 Z" fill="#ff00ff"/>
<path d="M949.80,380.30 Q951.18,385.12 956.00,386.50 Q951.18,387.88 949.80,392.70 Q948.42,387.88 943.60,386.50 Q948.42,385.12 949.80,380.30 Z" fill="#ff00ff"/>
<path d="M995.70,385.70 Q997.08,390.52 1001.90,391.90 Q997.08,393.28 995.70,398.10 Q994.32,393.28 989.50,391.90 Q994.32,390.52 995.70,385.70 Z" fill="#ff00ff"/>
<path d="M1042.80,385.70 Q1044.18,390.52 1049.00,391.90 Q1044.18,393.28 1042.80,398.10 Q1041.42,393.28 1036.60,391.90 Q1041.42,390.52 1042.80,385.70 Z" fill="#ff00ff"/>
<path d="M1088.00,385.20 Q1089.38,390.02 1094.20,391.40 Q1089.38,392.78 1088.00,397.60 Q1086.62,392.78 1081.80,391.40 Q1086.62,390.02 1088.00,385.20 Z" fill="#ff00ff"/>
<path d="M144.80,371.00 L200.00,372.00 L237.70,374.20 L280.00,379.00 L300.00,381.00 L348.00,383.80 L390.00,384.50 L460.00,385.00" fill="none" stroke="#000000" stroke-width="2.60" stroke-linejoin="round" stroke-linecap="round"/>
<path d="M769.50,380.00 L858.00,380.50 L904.00,382.30 L950.00,383.50 L995.20,385.00 L1041.40,386.00 L1087.00,384.20" fill="none" stroke="#000000" stroke-width="2.30" stroke-linejoin="round" stroke-linecap="round"/>
<path d="M150.6,380.23 C153.83,379.01 157.07,377.79 160.30,376.40 C163.53,375.02 166.77,373.46 170.00,371.55 C172.05,370.35 174.10,369.00 176.15,367.43 C178.20,365.85 180.25,364.04 182.30,361.90 C185.47,358.60 188.63,354.51 191.80,349.16 C193.87,345.67 195.93,341.63 198.00,337.09 C200.53,331.51 203.07,325.16 205.60,318.26 C207.73,312.46 209.87,306.27 212.00,299.74 C214.13,293.21 216.27,286.34 218.40,279.17 C221.33,269.31 224.27,258.88 227.20,248.43 C230.40,237.03 233.60,225.60 236.80,214.14 C238.97,206.38 241.13,198.62 243.30,191.23 C245.87,182.48 248.43,174.25 251.00,166.99 C254.10,158.22 257.20,150.84 260.30,144.57 C263.40,138.30 266.50,133.13 269.60,128.58 C271.67,125.55 273.73,122.79 275.80,120.27 C277.87,117.76 279.93,115.48 282.00,113.41 C285.10,110.31 288.20,107.68 291.30,105.38 C294.40,103.09 297.50,101.13 300.60,99.37 C303.36,97.82 306.11,96.42 308.87,95.21 C311.62,93.99 314.38,92.95 317.13,92.10 C319.89,91.24 322.64,90.58 325.40,90.12 C328.67,89.57 331.93,89.31 335.20,89.19 C338.47,89.06 341.73,89.08 345.00,89.10 C348.95,89.11 352.89,89.13 356.84,89.14 C360.79,89.15 364.73,89.16 368.68,89.17 C372.63,89.18 376.57,89.18 380.52,89.18 C384.47,89.18 388.41,89.18 392.36,89.18 C396.31,89.18 400.25,89.18 404.20,89.17 C408.15,89.16 412.09,89.16 416.04,89.15 C419.99,89.14 423.93,89.13 427.88,89.12 C431.83,89.11 435.77,89.09 439.72,89.08 C443.67,89.07 447.61,89.06 451.56,89.04 C455.51,89.03 459.45,89.01 463.40,89.00" fill="none" stroke="#00ff00" stroke-width="2.90" stroke-linejoin="round" stroke-linecap="round"/>
<path d="M768.9,387.34 C772.08,387.04 775.27,386.74 778.45,386.38 C781.63,386.03 784.82,385.63 788.00,385.12 C790.73,384.68 793.47,384.17 796.20,383.53 C798.93,382.89 801.67,382.13 804.40,381.18 C806.60,380.43 808.80,379.55 811.00,378.45 C813.20,377.36 815.40,376.03 817.60,374.37 C821.47,371.44 825.33,367.47 829.20,361.93 C831.93,358.01 834.67,353.31 837.40,348.52 C840.17,343.66 842.93,338.72 845.70,333.92 C848.43,329.17 851.17,324.57 853.90,319.69 C855.93,316.05 857.97,312.26 860.00,308.26 C863.87,300.65 867.73,292.28 871.60,284.65 C875.50,276.95 879.40,270.00 883.30,264.43 C887.17,258.90 891.03,254.73 894.90,251.44 C898.07,248.74 901.23,246.63 904.40,244.94 C907.57,243.25 910.73,241.97 913.90,240.92 C916.32,240.13 918.73,239.47 921.15,238.93 C923.57,238.38 925.98,237.94 928.40,237.58 C930.83,237.21 933.27,236.93 935.70,236.71 C938.13,236.48 940.57,236.32 943.00,236.20 C945.83,236.06 948.67,235.99 951.50,235.94 C954.33,235.90 957.17,235.88 960.00,235.87 C963.85,235.86 967.70,235.84 971.55,235.84 C975.39,235.83 979.24,235.82 983.09,235.82 C986.94,235.82 990.79,235.83 994.64,235.83 C998.48,235.84 1002.33,235.85 1006.18,235.86 C1010.03,235.88 1013.88,235.89 1017.73,235.91 C1021.58,235.93 1025.42,235.95 1029.27,235.97 C1033.12,235.99 1036.97,236.02 1040.82,236.04 C1044.67,236.07 1048.52,236.09 1052.36,236.12 C1056.21,236.15 1060.06,236.18 1063.91,236.21 C1067.76,236.24 1071.61,236.27 1075.45,236.30 C1079.30,236.34 1083.15,236.37 1087.00,236.40" fill="none" stroke="#00ff00" stroke-width="2.90" stroke-linejoin="round" stroke-linecap="round"/>
<path d="M143.5,138.00 C147.00,139.06 150.50,140.12 154.00,141.66 C157.87,143.35 161.73,145.62 165.60,148.75 C169.47,151.88 173.33,155.87 177.20,160.03 C179.53,162.54 181.87,165.11 184.20,167.83 C186.53,170.56 188.87,173.44 191.20,176.58 C194.30,180.75 197.40,185.36 200.50,190.37 C203.60,195.38 206.70,200.78 209.80,206.99 C212.90,213.19 216.00,220.20 219.10,227.44 C222.27,234.84 225.43,242.49 228.60,250.72 C230.40,255.40 232.20,260.26 234.00,265.43 C235.57,269.92 237.13,274.64 238.70,279.23 C239.83,282.54 240.97,285.78 242.10,288.83 C243.70,293.12 245.30,297.02 246.90,300.78 C248.47,304.47 250.03,308.04 251.60,311.61 C254.07,317.24 256.53,322.90 259.00,328.08 C262.23,334.86 265.47,340.82 268.70,346.03 C271.93,351.25 275.17,355.72 278.40,359.02 C281.63,362.33 284.87,364.47 288.10,366.45 C291.33,368.43 294.57,370.24 297.80,371.96 C301.03,373.67 304.27,375.28 307.50,377.02 C310.40,378.57 313.30,380.23 316.20,381.83 C319.10,383.43 322.00,384.98 324.90,386.32 C327.80,387.67 330.70,388.81 333.60,389.80 C336.50,390.80 339.40,391.65 342.30,392.43 C345.22,393.21 348.13,393.91 351.05,394.50 C353.97,395.10 356.88,395.60 359.80,395.98 C363.16,396.42 366.51,396.70 369.87,396.89 C373.22,397.07 376.58,397.15 379.93,397.19 C383.29,397.22 386.64,397.21 390.00,397.21 C393.89,397.21 397.78,397.22 401.67,397.24 C405.56,397.26 409.44,397.29 413.33,397.32 C417.22,397.36 421.11,397.40 425.00,397.45 C428.89,397.50 432.78,397.56 436.67,397.62 C440.56,397.68 444.44,397.74 448.33,397.80 C452.22,397.87 456.11,397.93 460.00,398.00" fill="none" stroke="#ff00ff" stroke-width="2.90" stroke-linejoin="round" stroke-linecap="round"/>
<path d="M769.8,355.29 C772.99,355.27 776.18,355.25 779.38,355.24 C782.57,355.23 785.76,355.23 788.95,355.26 C792.14,355.29 795.33,355.34 798.52,355.43 C801.72,355.52 804.91,355.65 808.10,355.82 C811.62,356.02 815.13,356.27 818.65,356.61 C822.17,356.95 825.68,357.38 829.20,357.93 C831.95,358.36 834.70,358.86 837.45,359.46 C840.20,360.07 842.95,360.78 845.70,361.63 C847.87,362.30 850.03,363.05 852.20,363.88 C854.37,364.71 856.53,365.61 858.70,366.56 C861.60,367.85 864.50,369.24 867.40,370.63 C870.33,372.03 873.27,373.43 876.20,374.75 C879.10,376.05 882.00,377.27 884.90,378.36 C887.80,379.46 890.70,380.43 893.60,381.28 C896.50,382.14 899.40,382.87 902.30,383.52 C906.08,384.36 909.87,385.05 913.65,385.63 C917.43,386.21 921.22,386.68 925.00,387.08 C927.76,387.38 930.51,387.64 933.27,387.87 C936.02,388.11 938.78,388.32 941.53,388.51 C944.29,388.71 947.04,388.89 949.80,389.06 C953.71,389.31 957.62,389.56 961.53,389.79 C965.44,390.02 969.36,390.23 973.27,390.43 C977.18,390.63 981.09,390.81 985.00,390.96 C988.96,391.12 992.93,391.26 996.89,391.37 C1000.85,391.49 1004.81,391.58 1008.78,391.65 C1012.74,391.73 1016.70,391.79 1020.67,391.83 C1024.63,391.87 1028.59,391.89 1032.56,391.90 C1036.52,391.91 1040.48,391.91 1044.44,391.90 C1048.41,391.89 1052.37,391.86 1056.33,391.83 C1060.30,391.80 1064.26,391.76 1068.22,391.72 C1072.19,391.67 1076.15,391.63 1080.11,391.57 C1084.07,391.52 1088.04,391.47 1092.00,391.41" fill="none" stroke="#ff00ff" stroke-width="2.90" stroke-linejoin="round" stroke-linecap="round"/>
</g>
</svg></body></html>
